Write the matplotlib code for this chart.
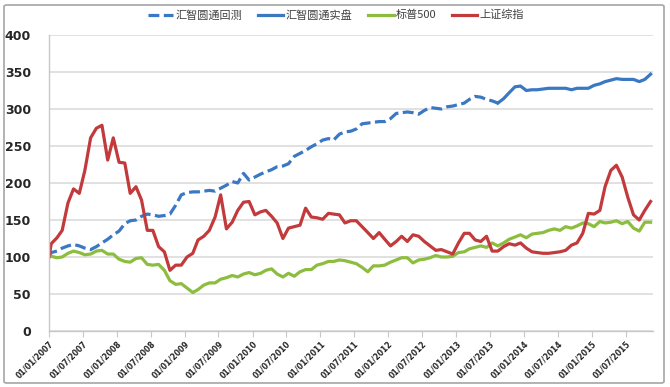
"""
汇智圆通 net value vs. S&P 500 and Shanghai Composite, monthly.
"""

import numpy as np
import pandas as pd
import matplotlib
matplotlib.use("Agg")
import matplotlib.pyplot as plt
import matplotlib.dates as mdates
from matplotlib.patches import FancyBboxPatch

plt.rcParams['font.family'] = ['Noto Sans CJK SC', 'DejaVu Sans']

# observation dates: start point, then one reading per month
start_date = '2007-01-01'
first_obs = '2007-01-13'
n_obs = 107

# 汇智圆通回测 (backtest, dashed) - first 81 points
backtest = [100, 106, 108, 112, 115, 117, 115, 112, 110, 114,
            119, 124, 130, 135, 145, 149, 150, 155, 158, 157,
            155, 156, 158, 170, 184, 187, 188, 188, 189, 190,
            189, 193, 197, 202, 200, 213, 204, 208, 212, 215,
            218, 222, 223, 226, 236, 240, 244, 249, 253, 258,
            260, 258, 266, 269, 270, 273, 280, 281, 282, 283,
            283, 287, 294, 295, 296, 295, 293, 298, 302, 301,
            300, 303, 304, 306, 308, 313, 317, 316, 313, 311,
            308]

# 汇智圆通实盘 (live, solid) - from point 80 onwards
live = [308, 314, 322, 330, 331, 325, 326, 326, 327, 328,
        328, 328, 328, 326, 328, 328, 328, 332, 334, 337,
        339, 341, 340, 340, 340, 337, 340, 347]
live_start = 80

# 标普500
sp500 = [100, 101, 99, 100, 105, 108, 106, 103, 104, 108,
         109, 104, 104, 97, 94, 93, 98, 99, 90, 89,
         90, 82, 68, 63, 64, 58, 52, 56, 62, 65,
         65, 70, 72, 75, 73, 77, 79, 76, 78, 82,
         84, 77, 73, 78, 74, 80, 83, 83, 89, 91,
         94, 94, 96, 95, 93, 91, 86, 80, 88, 88,
         89, 93, 96, 99, 99, 92, 96, 97, 99, 102,
         100, 100, 101, 106, 107, 111, 113, 115, 113, 119,
         115, 119, 124, 127, 130, 126, 131, 132, 133, 136,
         138, 136, 141, 139, 142, 146, 145, 141, 148, 146,
         147, 149, 145, 148, 139, 135, 147, 147]

# 上证综指
shanghai = [100, 118, 126, 136, 173, 192, 186, 217, 261, 274,
            278, 231, 261, 228, 227, 186, 195, 177, 136, 136,
            114, 107, 82, 89, 89, 100, 105, 123, 128, 136,
            154, 184, 138, 147, 163, 174, 175, 157, 161, 163,
            155, 146, 125, 139, 141, 143, 166, 154, 153, 151,
            159, 158, 157, 146, 149, 149, 141, 133, 125, 133,
            124, 115, 121, 128, 121, 130, 128, 121, 115, 109,
            110, 107, 104, 119, 132, 132, 123, 121, 128, 108,
            108, 114, 118, 116, 119, 112, 107, 106, 105, 105,
            106, 107, 109, 116, 119, 132, 159, 158, 163, 195,
            217, 224, 208, 181, 157, 150, 163, 175]

legend_labels = ['汇智圆通回测', '汇智圆通实盘', '标普500', '上证综指']
y_ticks = [0, 50, 100, 150, 200, 250, 300, 350, 400]

BLUE = '#3b78c4'
GREEN = '#8cbd3e'
RED = '#c23a3b'
GRID = '#d9d9d9'

dates = pd.DatetimeIndex([pd.Timestamp(start_date)]).append(
    pd.date_range('2007-01-01', periods=n_obs, freq='MS')
    + (pd.Timestamp(first_obs) - pd.Timestamp(start_date)))

fig = plt.figure(figsize=(6.7, 3.87), dpi=100)

# outer frame
frame = FancyBboxPatch((4 / 670, 4 / 387), 660 / 670, 378 / 387,
                       boxstyle='round,pad=0,rounding_size=0.004',
                       transform=fig.transFigure, facecolor='none',
                       edgecolor='#a6a6a6', linewidth=1.2, zorder=-1)
fig.patches.append(frame)

ax = fig.add_axes([49 / 670, 1 - 331 / 387, 604 / 670, 296 / 387])
ax.set_facecolor('none')

lw = 2.3
ax.plot(dates[:len(backtest)], backtest, color=BLUE, lw=lw,
        dashes=(3.4, 1.4), label=legend_labels[0])
ax.plot(dates[live_start:live_start + len(live)], live, color=BLUE, lw=lw,
        label=legend_labels[1])
ax.plot(dates[:len(sp500)], sp500, color=GREEN, lw=lw, label=legend_labels[2])
ax.plot(dates[:len(shanghai)], shanghai, color=RED, lw=lw,
        label=legend_labels[3])

ax.set_ylim(0, 400)
ax.set_yticks(y_ticks)
ax.set_xlim(pd.Timestamp('2007-01-01'), pd.Timestamp('2015-11-26'))

x_ticks = pd.date_range('2007-01-01', '2015-07-01', freq='6MS')
ax.set_xticks(x_ticks)
ax.set_xticklabels([d.strftime('%d/%m/%Y') for d in x_ticks],
                   rotation=45, ha='right', rotation_mode='anchor',
                   fontsize=5.6, fontweight='bold', color='#262626',
                   family='DejaVu Sans')
for lbl in ax.get_yticklabels():
    lbl.set_fontsize(9)
    lbl.set_fontweight('bold')
    lbl.set_color('#262626')
    lbl.set_family('DejaVu Sans')

ax.grid(axis='y', color=GRID, linewidth=1.1)
ax.set_axisbelow(True)
for side in ['top', 'right']:
    ax.spines[side].set_visible(False)
for side in ['left', 'bottom']:
    ax.spines[side].set_color('#c8c8c8')
    ax.spines[side].set_linewidth(1.0)
ax.tick_params(axis='y', length=0, pad=13)
ax.tick_params(axis='x', length=4, color='#c8c8c8', pad=2)

fig.legend(loc='center', bbox_to_anchor=(336 / 670, 1 - 15 / 387), ncol=4,
           frameon=False, fontsize=8, handlelength=2.3, handletextpad=0.2,
           columnspacing=1.4, labelcolor='#404040')

plt.savefig('out.png', dpi=100)
plt.close()
